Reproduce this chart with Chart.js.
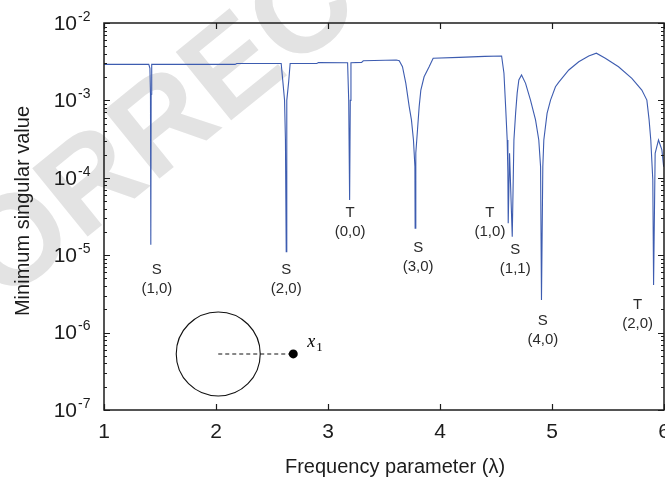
<!DOCTYPE html>
<html>
<head>
<meta charset="utf-8">
<script src="https://cdn.jsdelivr.net/npm/chart.js@4.4.1/dist/chart.umd.min.js"></script>
<style>
  html, body { margin: 0; padding: 0; background: #fff; }
  #wrap { width: 665px; height: 480px; }
</style>
</head>
<body>
<div id="wrap"><canvas id="c" width="665" height="480"></canvas></div>
<script>
// Frequency parameter (lambda) and the minimum singular value of the system matrix
const lambda = [
  1.000, 1.400, 1.410, 1.415, 1.418, 1.421, 1.426,
  2.170, 2.185,
  2.582, 2.597, 2.612, 2.620, 2.627, 2.632, 2.649, 2.662,
  2.900, 2.915,
  3.175, 3.185, 3.193, 3.199, 3.205,
  3.300, 3.315, 3.610,
  3.636, 3.665, 3.695, 3.725, 3.745, 3.763, 3.776, 3.778, 3.784, 3.799, 3.814, 3.829, 3.858, 3.903, 3.939,
  4.170, 4.400, 4.550,
  4.571, 4.586, 4.600, 4.606, 4.609, 4.621, 4.645, 4.660, 4.675, 4.689, 4.704, 4.728,
  4.764, 4.808, 4.853, 4.882, 4.898, 4.906, 4.918, 4.927, 4.956, 4.987, 5.031, 5.061,
  5.150, 5.239, 5.328, 5.396, 5.476, 5.594, 5.713, 5.802, 5.847, 5.867, 5.882,
  5.900, 5.907, 5.921, 5.951, 5.981, 5.997
];
const sigma = [
  2.92e-3, 2.92e-3, 2.6e-3, 1.2e-3, 1.36e-5, 1.2e-3, 2.92e-3,
  2.92e-3, 3.0e-3,
  3.0e-3, 1.75e-3, 1.01e-3, 3.1e-4, 1.11e-5, 1.0e-3, 1.75e-3, 3.0e-3,
  3.0e-3, 3.08e-3,
  3.07e-3, 1.0e-3, 5.16e-5, 1.0e-3, 3.07e-3,
  3.1e-3, 3.25e-3, 3.33e-3,
  3.26e-3, 2.72e-3, 1.66e-3, 8.3e-4, 5.6e-4, 3.08e-4, 1.39e-4, 2.23e-5, 2.09e-4, 4.15e-4, 8.3e-4, 1.36e-3, 2.02e-3, 2.72e-3, 3.5e-3,
  3.6e-3, 3.7e-3, 3.75e-3,
  2.24e-3, 8.3e-4, 3.08e-4, 1.15e-4, 2.58e-5, 2.07e-4, 1.73e-5, 3.08e-4, 6.8e-4, 1.24e-3, 1.84e-3, 2.13e-3,
  1.66e-3, 1.01e-3, 5.6e-4, 3.08e-4, 1.39e-4, 2.64e-6, 1.39e-4, 3.08e-4, 6.8e-4, 1.01e-3, 1.5e-3, 1.72e-3,
  2.47e-3, 3.16e-3, 3.75e-3, 4.07e-3, 3.5e-3, 2.72e-3, 1.93e-3, 1.36e-3, 1.01e-3, 5.6e-4, 3.08e-4,
  9.4e-5, 4.12e-6, 2.07e-4, 3.08e-4, 2.29e-4, 1.39e-4
];

// Axis ticks
const xTicks = [1, 2, 3, 4, 5, 6];
const yDecades = [-7, -6, -5, -4, -3, -2];

// Mode labels at the resonance dips (symmetric S / torsional T, with indices)
const modeType  = ['S', 'S', 'T', 'S', 'T', 'S', 'S', 'T'];
const modeIndex = ['(1,0)', '(2,0)', '(0,0)', '(3,0)', '(1,0)', '(1,1)', '(4,0)', '(2,0)'];
const modeX     = [1.472, 2.627, 3.197, 3.805, 4.446, 4.672, 4.918, 5.764];
const modeY     = [6.4e-6, 6.4e-6, 3.5e-5, 1.24e-5, 3.5e-5, 1.17e-5, 1.41e-6, 2.28e-6];

// Sketch of the source point x1 outside the circular domain
const insetCenter = [2.02, 5.3e-7];
const insetPoint  = [2.69, 5.3e-7];

const watermarkText = 'UNCORRECTED PROOF';

const FONT = '"Liberation Sans", Arial, Helvetica, sans-serif';
const INK = '#1c1c1c';

const decorations = {
  id: 'decorations',
  beforeDraw(chart) {
    const ctx = chart.ctx;
    ctx.save();
    ctx.fillStyle = '#ffffff';
    ctx.fillRect(0, 0, chart.width, chart.height);
    ctx.font = 'bold 128px ' + FONT;
    ctx.fillStyle = '#e3e3e3';
    const pre = ctx.measureText('UNC').width;
    const o = ctx.measureText('O').width;
    ctx.translate(20, 246);
    ctx.rotate(-39 * Math.PI / 180);
    ctx.textBaseline = 'middle';
    ctx.textAlign = 'left';
    ctx.fillText(watermarkText, -(pre + o / 2), 0);
    ctx.restore();
  },
  afterDraw(chart) {
    const ctx = chart.ctx;
    const a = chart.chartArea;
    const xs = chart.scales.x, ys = chart.scales.y;
    ctx.save();

    // frame
    ctx.strokeStyle = INK;
    ctx.lineWidth = 1.5;
    ctx.strokeRect(a.left, a.top, a.right - a.left, a.bottom - a.top);

    // x ticks (inward, top and bottom)
    ctx.lineWidth = 1.2;
    ctx.beginPath();
    xTicks.forEach(v => {
      const px = Math.round(xs.getPixelForValue(v)) + 0.5;
      ctx.moveTo(px, a.bottom); ctx.lineTo(px, a.bottom - 6);
      ctx.moveTo(px, a.top); ctx.lineTo(px, a.top + 6);
    });
    // y ticks, decades and minor
    yDecades.forEach((d, i) => {
      const py = Math.round(ys.getPixelForValue(Math.pow(10, d))) + 0.5;
      ctx.moveTo(a.left, py); ctx.lineTo(a.left + 6, py);
      ctx.moveTo(a.right, py); ctx.lineTo(a.right - 6, py);
      if (i < yDecades.length - 1) {
        for (let m = 2; m <= 9; m++) {
          const q = Math.round(ys.getPixelForValue(m * Math.pow(10, d))) + 0.5;
          ctx.moveTo(a.left, q); ctx.lineTo(a.left + 3, q);
          ctx.moveTo(a.right, q); ctx.lineTo(a.right - 3, q);
        }
      }
    });
    ctx.stroke();

    // tick labels
    ctx.fillStyle = INK;
    ctx.textBaseline = 'middle';
    ctx.textAlign = 'center';
    ctx.font = '21px ' + FONT;
    xTicks.forEach(v => {
      ctx.fillText(String(v), xs.getPixelForValue(v), a.bottom + 22);
    });
    yDecades.forEach(d => {
      const py = ys.getPixelForValue(Math.pow(10, d));
      ctx.textAlign = 'right';
      ctx.font = '21px ' + FONT;
      ctx.fillText('10', a.left - 27, py + 1);
      ctx.textAlign = 'left';
      ctx.font = '14px ' + FONT;
      ctx.fillText('-' + Math.abs(d), a.left - 26, py - 6);
    });

    // axis titles
    ctx.font = '20px ' + FONT;
    ctx.textAlign = 'center';
    ctx.fillText('Frequency parameter (\u03bb)', 395, a.bottom + 57);
    ctx.save();
    ctx.translate(23, 211);
    ctx.rotate(-Math.PI / 2);
    ctx.fillText('Minimum singular value', 0, 0);
    ctx.restore();

    // mode labels
    ctx.font = '15px ' + FONT;
    ctx.fillStyle = '#2a2a2a';
    modeType.forEach((t, i) => {
      const px = xs.getPixelForValue(modeX[i]);
      const py = ys.getPixelForValue(modeY[i]);
      ctx.fillText(t, px, py);
      ctx.fillText(modeIndex[i], px, py + 19);
    });

    // inset: circle, dashed line and source point x1
    const cx = xs.getPixelForValue(insetCenter[0]);
    const cy = ys.getPixelForValue(insetCenter[1]);
    const px1 = xs.getPixelForValue(insetPoint[0]);
    const py1 = ys.getPixelForValue(insetPoint[1]);
    ctx.strokeStyle = '#111';
    ctx.lineWidth = 1.1;
    ctx.beginPath();
    ctx.arc(cx, cy, 42, 0, Math.PI * 2);
    ctx.stroke();
    ctx.setLineDash([4, 3]);
    ctx.beginPath();
    ctx.moveTo(cx, cy); ctx.lineTo(px1, py1);
    ctx.stroke();
    ctx.setLineDash([]);
    ctx.fillStyle = '#000';
    ctx.beginPath();
    ctx.arc(px1, py1, 4.5, 0, Math.PI * 2);
    ctx.fill();
    ctx.textAlign = 'left';
    ctx.font = 'italic 18px "Liberation Serif", "Times New Roman", serif';
    ctx.fillText('x', px1 + 14, py1 - 12);
    ctx.font = '13px "Liberation Serif", "Times New Roman", serif';
    ctx.fillText('1', px1 + 23, py1 - 6);

    ctx.restore();
  }
};

new Chart(document.getElementById('c'), {
  type: 'line',
  data: {
    datasets: [{
      data: lambda.map((l, i) => ({ x: l, y: sigma[i] })),
      borderColor: '#3d5cb0',
      borderWidth: 1.1,
      pointRadius: 0,
      tension: 0,
      fill: false
    }]
  },
  options: {
    responsive: false,
    animation: false,
    devicePixelRatio: 1,
    layout: { padding: { left: 104, right: 1, top: 23, bottom: 70 } },
    plugins: { legend: { display: false }, tooltip: { enabled: false } },
    scales: {
      x: { type: 'linear', min: 1, max: 6, display: false },
      y: { type: 'logarithmic', min: 1e-7, max: 1e-2, display: false }
    }
  },
  plugins: [decorations]
});
</script>
</body>
</html>
